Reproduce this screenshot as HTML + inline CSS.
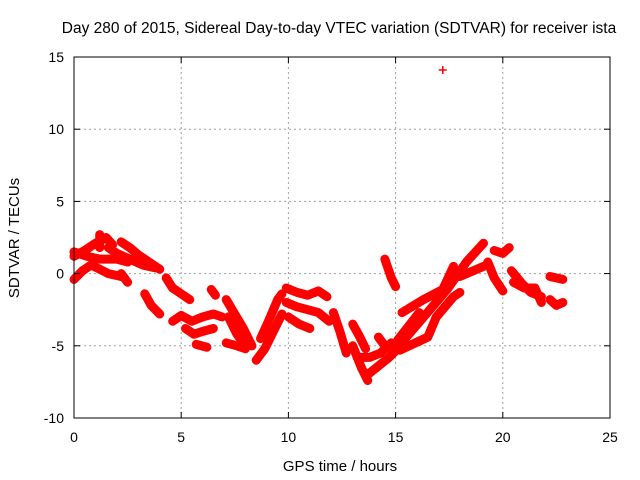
<!DOCTYPE html>
<html><head><meta charset="utf-8"><style>
body{margin:0;background:#fff}
svg{display:block;font-family:"Liberation Sans",sans-serif}
</style></head><body>
<svg id="c" width="640" height="480">
<text x="339" y="33" font-size="15.5" text-anchor="middle">Day 280 of 2015, Sidereal Day-to-day VTEC variation (SDTVAR) for receiver ista</text>
<text x="340" y="471" font-size="15" text-anchor="middle">GPS time / hours</text>
<text transform="translate(19,238) rotate(-90)" font-size="15" text-anchor="middle">SDTVAR / TECUs</text>
<g id="grid"></g><g id="marks"></g><g id="axes"></g>
</svg>
<script>
const xTicks=[0,5,10,15,20,25];
const yTicks=[-10,-5,0,5,10,15];
const tracks=[
[[0,-0.4],[0.4,0.2],[0.8,0.6],[1.2,0.3],[1.6,0.0],[2.2,-0.2]],
[[0,1.2],[0.5,1.6],[1.0,2.1],[1.5,2.5],[1.8,2.0]],
[[0,1.5],[0.6,1.2],[1.2,1.0],[2.0,1.0],[2.5,0.8]],
[[2.2,2.2],[2.6,1.8],[3.0,1.3],[3.5,0.8],[4.0,0.3]],
[[1.6,1.8],[2.0,1.4],[2.6,1.0],[3.2,0.6],[3.8,0.4]],
[[2.2,0.0],[2.5,-0.6]],
[[1.2,2.7],[1.2,1.8]],
[[3.3,-1.4],[3.6,-2.2],[4.0,-2.8]],
[[4.3,-0.3],[4.6,-1.0],[5.0,-1.4],[5.4,-1.8]],
[[4.6,-3.3],[5.0,-2.9],[5.5,-3.3],[6.0,-3.0],[6.5,-2.8],[6.9,-3.0]],
[[5.2,-3.8],[5.6,-4.2],[6.0,-4.0],[6.5,-3.8]],
[[5.7,-4.9],[6.2,-5.1]],
[[6.4,-1.1],[6.6,-1.5]],
[[7.1,-1.8],[7.5,-2.8],[7.9,-3.8],[8.3,-5.0]],
[[7.2,-3.0],[7.6,-4.2],[8.0,-5.0]],
[[7.1,-4.8],[7.6,-5.0],[8.0,-5.2]],
[[8.5,-6.0],[8.9,-5.2],[9.3,-4.0],[9.7,-2.8]],
[[8.7,-4.5],[9.1,-3.2],[9.5,-1.8],[9.7,-1.4]],
[[9.9,-1.0],[10.4,-1.3],[10.9,-1.5],[11.4,-1.2],[11.8,-1.6]],
[[9.9,-2.0],[10.4,-2.3],[10.9,-2.5],[11.4,-2.7],[11.9,-3.3]],
[[10.0,-3.0],[10.5,-3.5],[11.0,-3.8]],
[[12.1,-2.7],[12.4,-4.0],[12.7,-5.5]],
[[13.0,-5.0],[13.4,-6.5],[13.7,-7.4]],
[[13.7,-7.0],[14.2,-6.4],[14.7,-5.8],[15.1,-5.2]],
[[13.2,-5.8],[13.8,-5.8],[14.3,-5.5],[14.8,-4.8]],
[[13.0,-3.5],[13.3,-4.3],[13.6,-5.2]],
[[14.2,-4.4],[14.5,-5.0]],
[[15.1,-5.1],[16.6,-2.5],[17.4,-1.1],[18.3,0.8],[19.1,2.1]],
[[15.2,-5.3],[16.5,-4.4],[16.9,-3.0],[17.7,-1.6],[18.0,-1.3]],
[[15.3,-2.7],[16.3,-1.8],[17.2,-1.1],[17.7,0.5]],
[[15.1,-4.6],[16.1,-2.7]],
[[18.0,-0.2],[19.1,0.5]],
[[14.5,1.0],[14.8,-0.3],[15.0,-0.9]],
[[19.3,0.8],[19.6,-0.3],[20.0,-1.2]],
[[19.6,1.6],[20.0,1.4],[20.3,1.8]],
[[20.4,0.2],[20.9,-0.7],[21.3,-1.3],[21.8,-1.6]],
[[20.5,-0.6],[21.0,-1.0],[21.5,-1.0],[21.8,-2.0]],
[[22.2,-0.2],[22.8,-0.4]],
[[22.2,-1.8],[22.5,-2.2],[22.8,-2.0]],
[[17.2,14.1]]
];
const NS="http://www.w3.org/2000/svg";
const X0=74,X1=610,Y0=418,Y1=57;
const xs=t=>X0+(t-0)/25*(X1-X0);
const ys=v=>Y0-(v+10)/25*(Y0-Y1);
function mk(tag,at,parent){const e=document.createElementNS(NS,tag);for(const k in at)e.setAttribute(k,at[k]);parent.appendChild(e);return e;}
const grid=document.getElementById('grid'),axes=document.getElementById('axes'),marks=document.getElementById('marks');
xTicks.forEach(t=>{const x=xs(t);
 if(t>0&&t<25){const g=mk('line',{x1:x,x2:x,y1:Y1,y2:Y0,stroke:'#a0a0a0','stroke-dasharray':'2,3'},grid);
 
 }
 mk('line',{x1:x,x2:x,y1:Y0,y2:Y0-6,stroke:'#000'},axes);
 mk('line',{x1:x,x2:x,y1:Y1,y2:Y1+6,stroke:'#000'},axes);
 const l=mk('text',{x:x,y:Y0+24,'font-size':14,'text-anchor':'middle'},axes);l.textContent=t;
 
 
});
yTicks.forEach(v=>{const y=ys(v);
 if(v>-10&&v<15){const g=mk('line',{x1:X0,x2:X1,y1:y,y2:y,stroke:'#a0a0a0','stroke-dasharray':'2,3'},grid);
 
 }
 mk('line',{x1:X0,x2:X0+6,y1:y,y2:y,stroke:'#000'},axes);
 mk('line',{x1:X1,x2:X1-6,y1:y,y2:y,stroke:'#000'},axes);
 const l=mk('text',{x:X0-10,y:y+5,'font-size':14,'text-anchor':'end'},axes);l.textContent=v;
 
 
});
const fr=mk('rect',{x:X0,y:Y1,width:X1-X0,height:Y0-Y1,fill:'none',stroke:'#000'},axes);


tracks.forEach(tr=>{
 const g=mk('g',{},marks);
 
 
 if(tr.length>1){mk('polyline',{points:tr.map(p=>xs(p[0])+','+ys(p[1])).join(' '),fill:'none',stroke:'#f00','stroke-width':9,'stroke-linejoin':'round','stroke-linecap':'round'},g);}
 tr.forEach(p=>{const x=xs(p[0]),y=ys(p[1]);
  const m=mk('path',{d:`M${x-4},${y}h8M${x},${y-4}v8`,stroke:'#f00','stroke-width':1.5},g);
  
  
 });
});
</script>
</body></html>
